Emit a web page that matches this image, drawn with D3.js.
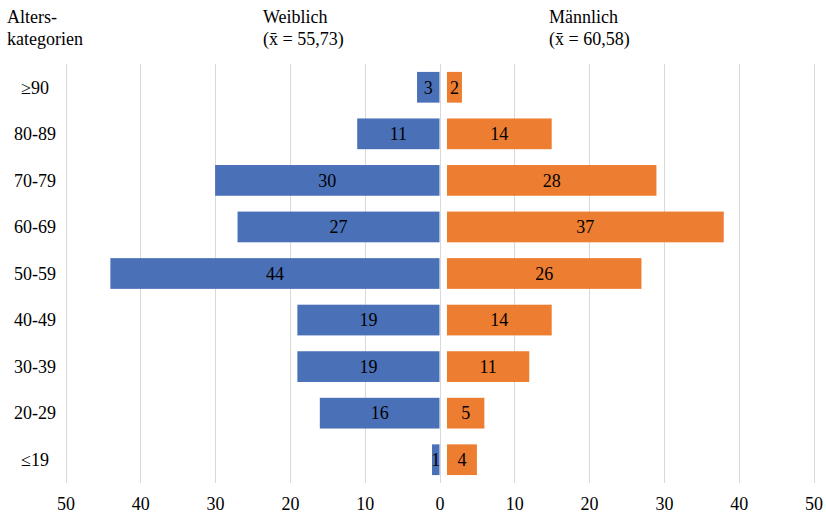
<!DOCTYPE html>
<meta charset="utf-8" />
<html>
<head>
    <style>
        body { margin: 0; background: #fff; }
        text { font-family: "Liberation Serif", "Times New Roman", serif; font-size: 18px; fill: #000; }
        .grid line { stroke: #d9d9d9; stroke-width: 1; }
    </style>
</head>
<body>
    <svg width="826" height="515"></svg>
    <script src="https://cdn.jsdelivr.net/npm/d3@7"></script>
    <script>
        // data
        var categories = ["≥90", "80-89", "70-79", "60-69", "50-59", "40-49", "30-39", "20-29", "≤19"];
        var female = [3, 11, 30, 27, 44, 19, 19, 16, 1];
        var male = [2, 14, 28, 37, 26, 14, 11, 5, 4];
        var ticks = [-50, -40, -30, -20, -10, 0, 10, 20, 30, 40, 50];
        var gap = 1; // male bars start one unit right of zero

        var svg = d3.select("svg");

        var x = d3.scaleLinear().domain([-50, 50]).range([65.5, 813.5]);
        var y = d3.scaleBand().domain(categories).range([64, 483]).paddingInner(0.34).paddingOuter(0.17);

        // grid
        svg.append("g").attr("class", "grid")
            .selectAll("line").data(ticks).enter().append("line")
            .attr("x1", function (d) { return Math.round(x(d)) + 0.5; })
            .attr("x2", function (d) { return Math.round(x(d)) + 0.5; })
            .attr("y1", 64).attr("y2", 483);

        // female bars
        svg.append("g").selectAll("rect").data(female).enter().append("rect")
            .attr("x", function (d) { return x(-d); })
            .attr("y", function (d, i) { return y(categories[i]); })
            .attr("width", function (d) { return x(0) - x(-d); })
            .attr("height", y.bandwidth())
            .attr("fill", "#4a70b7");

        // male bars
        svg.append("g").selectAll("rect").data(male).enter().append("rect")
            .attr("x", x(gap))
            .attr("y", function (d, i) { return y(categories[i]); })
            .attr("width", function (d) { return x(gap + d) - x(gap); })
            .attr("height", y.bandwidth())
            .attr("fill", "#ed7d31");

        // bar labels
        svg.append("g").selectAll("text").data(female).enter().append("text")
            .attr("x", function (d) { return (x(-d) + x(0)) / 2; })
            .attr("y", function (d, i) { return y(categories[i]) + y.bandwidth() / 2; })
            .attr("dy", "0.35em")
            .attr("text-anchor", "middle")
            .text(function (d) { return d; });

        svg.append("g").selectAll("text").data(male).enter().append("text")
            .attr("x", function (d) { return (x(gap) + x(gap + d)) / 2; })
            .attr("y", function (d, i) { return y(categories[i]) + y.bandwidth() / 2; })
            .attr("dy", "0.35em")
            .attr("text-anchor", "middle")
            .text(function (d) { return d; });

        // category labels
        svg.append("g").selectAll("text").data(categories).enter().append("text")
            .attr("x", 35)
            .attr("y", function (d) { return y(d) + y.bandwidth() / 2; })
            .attr("dy", "0.35em")
            .attr("text-anchor", "middle")
            .text(function (d) { return d; });

        // x axis labels
        var xAxis = d3.axisBottom(x).tickValues(ticks).tickSize(0).tickPadding(0)
            .tickFormat(function (d) { return Math.abs(d); });
        var ax = svg.append("g").attr("transform", "translate(0,497)").call(xAxis);
        ax.select(".domain").remove();
        ax.selectAll("text").attr("font-size", null).attr("font-family", null).attr("fill", "#000");
        ax.attr("font-size", null).attr("font-family", null);

        // headers
        function header(x0, lines) {
            var t = svg.append("text").attr("x", x0).attr("y", 23);
            lines.forEach(function (l, i) {
                t.append("tspan").attr("x", x0).attr("dy", i ? 22 : 0).text(l);
            });
        }
        header(7, ["Alters-", "kategorien"]);
        header(263, ["Weiblich", "(x\u0304 = 55,73)"]);
        header(549, ["Männlich", "(x\u0304 = 60,58)"]);
    </script>
</body>
</html>
